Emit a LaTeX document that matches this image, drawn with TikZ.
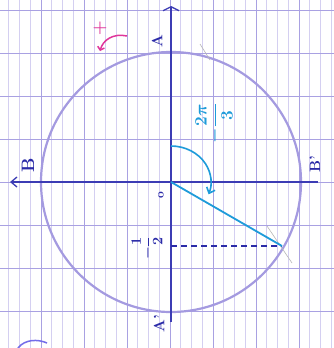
\documentclass[tikz,border=0pt]{standalone}
\usetikzlibrary{arrows.meta}
\definecolor{gridc}{HTML}{D4CFF1}
\definecolor{gridd}{HTML}{A9A1E2}
\definecolor{circc}{HTML}{A49AE0}
\definecolor{axisc}{HTML}{3C3CB4}
\definecolor{cyanc}{HTML}{1E9BDA}
\definecolor{magc}{HTML}{E0359B}
\definecolor{labc}{HTML}{2B2BA8}
\begin{document}
\begin{tikzpicture}[x=1pt,y=1pt,
  lab/.style={text=labc,font=\bfseries\boldmath\fontsize{15}{15}\selectfont,rotate=90,inner sep=0pt},
  fineline/.style={gridc,line width=0.6pt},
  darkline/.style={gridd,line width=0.9pt},
  axisline/.style={axisc,line width=1.3pt}]
\fill[white] (0,0) rectangle (334,-348);
\useasboundingbox (0,0) rectangle (334,-348);
% grid
\foreach \k in {0,...,32} {\draw[fineline] (-2+\k*10.75,0) -- (-2+\k*10.75,-348);}
\foreach \xx in {41,84,127,170,213,256,299} {\draw[darkline] (\xx,0) -- (\xx,-348);}
\foreach \yy in {10,53,96,139,182,225,268,311} {\draw[darkline] (0,-\yy) -- (334,-\yy);}
% coordinates
\coordinate (O) at (171,-182);
\coordinate (P) at (282,-246);
\coordinate (H) at (171,-246);
\coordinate (Ytop) at (171,-6);
\coordinate (Ybot) at (171,-322);
\coordinate (Xleft) at (10,-182);
\coordinate (Xright) at (318,-182);
% circle
\draw[circc,line width=2.2pt] (O) circle (130);
% axes
\draw[axisline,-{Straight Barb[length=4pt,width=16pt]}] (Ybot) -- (Ytop);
\draw[axisline,-{Straight Barb[length=6pt,width=10pt]}] (Xright) -- (Xleft);
% construction marks
\draw[gray!55,line width=0.6pt] (200,-44) -- (210,-60);
\draw[gray!55,line width=0.6pt] (267,-226) -- (292,-263);
% dashed projection
\draw[labc,line width=1.5pt,dash pattern=on 6pt off 4pt] (H) -- (P);
% radius
\draw[cyanc,line width=1.8pt] (O) -- (P);
% angle arc
\draw[cyanc,line width=1.6pt,-{Straight Barb[length=5pt,width=9pt]}] (171,-146) arc[start angle=90,end angle=-20,x radius=40,y radius=36];
% labels
\node[lab] (lA) at (157,-41) {A};
\node[lab] (lA2) at (159,-324) {A'};
\node[lab,font=\bfseries\fontsize{18}{18}\selectfont] (lB) at (28,-165) {B};
\node[lab] (lB2) at (315,-164) {B'};
\node[lab,font=\bfseries\fontsize{12}{12}\selectfont] (lO) at (161,-195) {o};
\node[lab] (lh) at (147,-248) {$\displaystyle-\frac{1}{2}$};
\node[lab,text=cyanc,font=\bfseries\boldmath\fontsize{16}{16}\selectfont] (lang) at (214,-123) {$\displaystyle-\frac{2\pi}{3}$};
% orientation mark
\node[text=magc,font=\bfseries\fontsize{17}{17}\selectfont,inner sep=0pt] (plus) at (100,-28) {+};
\coordinate (m1) at (127,-36);
\coordinate (m2) at (100,-51);
\draw[magc,line width=1.5pt,-{Straight Barb[length=3pt,width=7pt]}] (m1) .. controls (113,-33) and (103,-40) .. (m2);
% partial arc bottom-left
\coordinate (b1) at (18,-348);
\coordinate (b2) at (47,-343);
\draw[circc!70!blue,line width=1.5pt] (b1) .. controls (25,-339) and (38,-339) .. (b2);
\end{tikzpicture}
\end{document}
